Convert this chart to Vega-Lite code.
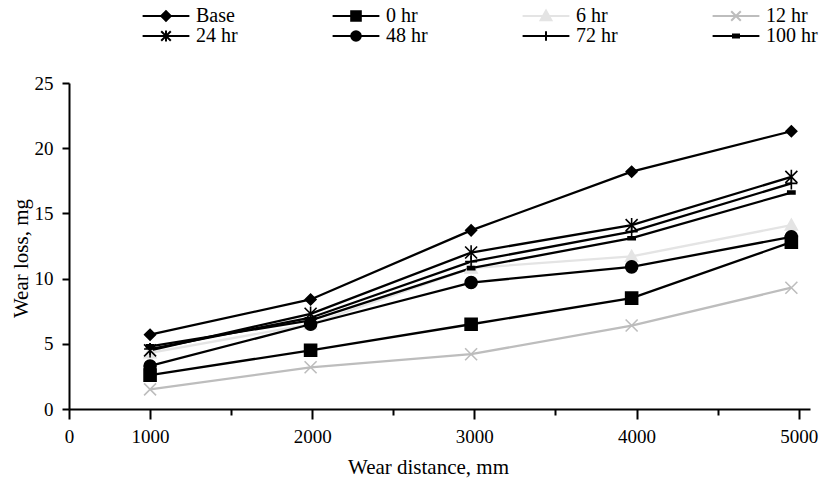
{
  "$schema": "https://vega.github.io/schema/vega-lite/v6.json",
  "width": 741,
  "height": 326,
  "autosize": "none",
  "padding": {"left": 69, "top": 83, "right": 11, "bottom": 75},
  "background": "white",
  "config": {
    "view": {"stroke": null},
    "font": "Liberation Serif",
    "axis": {"labelFont": "Liberation Serif", "titleFont": "Liberation Serif", "labelColor": "black", "titleColor": "black", "domainColor": "black", "tickColor": "black", "domainWidth": 2, "tickWidth": 2, "grid": false, "titleFontWeight": "normal"},
    "legend": {"labelFont": "Liberation Serif", "labelColor": "black"}
  },
  "data": {"values": [
    {"series": "6 hr", "d": 1000, "w": 4.3},
    {"series": "6 hr", "d": 1990, "w": 6.5},
    {"series": "6 hr", "d": 2980, "w": 10.8},
    {"series": "6 hr", "d": 3970, "w": 11.7},
    {"series": "6 hr", "d": 4955, "w": 14.1},
    {"series": "12 hr", "d": 1000, "w": 1.5},
    {"series": "12 hr", "d": 1990, "w": 3.2},
    {"series": "12 hr", "d": 2980, "w": 4.2},
    {"series": "12 hr", "d": 3970, "w": 6.4},
    {"series": "12 hr", "d": 4955, "w": 9.3},
    {"series": "Base", "d": 1000, "w": 5.7},
    {"series": "Base", "d": 1990, "w": 8.4},
    {"series": "Base", "d": 2980, "w": 13.7},
    {"series": "Base", "d": 3970, "w": 18.2},
    {"series": "Base", "d": 4955, "w": 21.3},
    {"series": "0 hr", "d": 1000, "w": 2.6},
    {"series": "0 hr", "d": 1990, "w": 4.5},
    {"series": "0 hr", "d": 2980, "w": 6.5},
    {"series": "0 hr", "d": 3970, "w": 8.5},
    {"series": "0 hr", "d": 4955, "w": 12.8},
    {"series": "24 hr", "d": 1000, "w": 4.5},
    {"series": "24 hr", "d": 1990, "w": 7.3},
    {"series": "24 hr", "d": 2980, "w": 12.0},
    {"series": "24 hr", "d": 3970, "w": 14.1},
    {"series": "24 hr", "d": 4955, "w": 17.8},
    {"series": "48 hr", "d": 1000, "w": 3.3},
    {"series": "48 hr", "d": 1990, "w": 6.5},
    {"series": "48 hr", "d": 2980, "w": 9.7},
    {"series": "48 hr", "d": 3970, "w": 10.9},
    {"series": "48 hr", "d": 4955, "w": 13.2},
    {"series": "72 hr", "d": 1000, "w": 4.6},
    {"series": "72 hr", "d": 1990, "w": 7.0},
    {"series": "72 hr", "d": 2980, "w": 11.3},
    {"series": "72 hr", "d": 3970, "w": 13.6},
    {"series": "72 hr", "d": 4955, "w": 17.3},
    {"series": "100 hr", "d": 1000, "w": 4.8},
    {"series": "100 hr", "d": 1990, "w": 6.8},
    {"series": "100 hr", "d": 2980, "w": 10.8},
    {"series": "100 hr", "d": 3970, "w": 13.1},
    {"series": "100 hr", "d": 4955, "w": 16.6}
  ]},
  "encoding": {
    "x": {"field": "d", "type": "quantitative",
      "scale": {"domain": [500, 5070], "nice": false, "zero": false},
      "axis": {"title": "Wear distance, mm", "values": [500, 1000, 1500, 2000, 2500, 3000, 3500, 4000, 4500, 5000],
        "format": "d",
        "labelExpr": "datum.value == 500 ? '0' : (datum.value % 1000 == 0 ? datum.label : '')",
        "tickSize": {"condition": {"test": "datum.value % 1000 == 500 && datum.value > 500", "value": 6}, "value": 10},
        "labelFontSize": 19, "labelPadding": 8, "labelFlush": false, "labelOverlap": false,
        "titleFontSize": 21, "titlePadding": 10, "titleX": 359}},
    "y": {"field": "w", "type": "quantitative",
      "scale": {"domain": [0, 25], "nice": false},
      "axis": {"title": "Wear loss, mg", "values": [0, 5, 10, 15, 20, 25], "tickSize": 7,
        "labelFontSize": 19, "labelPadding": 9, "titleFontSize": 21, "titlePadding": 3, "titleY": 175}}
  },
  "layer": [
    {
      "mark": {"type": "line", "strokeWidth": 2.3},
      "encoding": {
        "detail": {"field": "series"},
        "color": {"field": "series", "type": "nominal",
          "scale": {"domain": ["Base", "0 hr", "6 hr", "12 hr", "24 hr", "48 hr", "72 hr", "100 hr"],
                    "range": ["#000000", "#000000", "#e4e4e4", "#bdbdbd", "#000000", "#000000", "#000000", "#000000"]},
          "legend": {
            "orient": "none", "legendX": 87, "legendY": -77, "columns": 4, "direction": "horizontal", "title": null,
            "symbolSize": 144, "symbolStrokeWidth": 2, "labelOffset": 20, "labelFontSize": 20,
            "columnPadding": 80, "rowPadding": 0, "gridAlign": "all",
            "encode": {"symbols": {"update": {
              "shape": {"signal": "datum.value === 'Base' ? 'M-3.9,0H3.9M-0.8,0L0,-0.8L0.8,0L0,0.8Z' : datum.value === '0 hr' ? 'M-3.9,0H3.9M-0.8,-0.8H0.8V0.8H-0.8Z' : datum.value === '6 hr' ? 'M-3.9,0H3.9M0,-0.9L0.9,0.7H-0.9Z' : datum.value === '12 hr' ? 'M-3.9,0H3.9M-0.8,-0.8L0.8,0.8M-0.8,0.8L0.8,-0.8' : datum.value === '24 hr' ? 'M-3.9,0H3.9M-0.8,-0.8L0.8,0.8M-0.8,0.8L0.8,-0.8M0,-0.9V0.9' : datum.value === '48 hr' ? 'M-3.9,0H3.9M0.8,0A0.8,0.8,0,1,1,-0.8,0A0.8,0.8,0,1,1,0.8,0Z' : datum.value === '72 hr' ? 'M-3.9,0H3.9M0,-0.8V0.8' : 'M-3.9,0H3.9M-0.5,-0.25H0.5V0.25H-0.5Z'"},
              "fill": {"scale": "color", "field": "value"},
              "stroke": {"scale": "color", "field": "value"},
              "strokeWidth": {"value": 2},
              "opacity": {"value": 1}
            }}}
          }}
      }
    },
    {
      "mark": {"type": "point", "filled": true, "size": 144, "strokeWidth": 1.6, "opacity": 1},
      "encoding": {
        "color": {"field": "series", "type": "nominal", "legend": null},
        "stroke": {"field": "series", "type": "nominal", "legend": null,
          "scale": {"range": ["#000000", "#000000", "#bdbdbd", "#000000", "#000000", "#e4e4e4", "#000000", "#000000"]}},
        "shape": {"field": "series", "type": "nominal", "legend": null,
          "scale": {"range": ["M-1,-1H1V1H-1Z", "M-0.6,-0.25H0.6V0.25H-0.6Z", "M-1,-1L1,1M-1,1L1,-1", "M-1,-1L1,1M-1,1L1,-1M0,-1.2V1.2", "M1,0A1,1,0,1,1,-1,0A1,1,0,1,1,1,0Z", "M0,-1L1,0.8H-1Z", "M-1,0H1M0,-1V1", "M-0.9,0L0,-0.9L0.9,0L0,0.9Z"]}}
      }
    }
  ]
}
